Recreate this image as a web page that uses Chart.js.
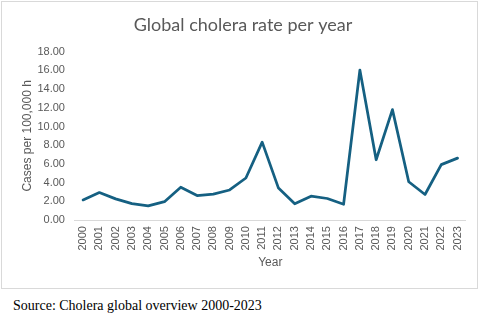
<!DOCTYPE html>
<html>
<head>
<meta charset="utf-8">
<script src="https://cdn.jsdelivr.net/npm/chart.js@4"></script>
<style>
  body { margin: 0; background: #fff; width: 482px; height: 324px; overflow: hidden; }
  #box { position: absolute; left: 1px; top: 1px; width: 475px; height: 286px; border: 1px solid #d9d9d9; }
  #src { position: absolute; left: 13px; top: 298px; font-family: "Liberation Serif", "Times New Roman", serif; font-size: 14px; color: #000; }
</style>
</head>
<body>
<div id="box"><canvas id="choleraChart"></canvas></div>
<div id="src">Source: Cholera global overview 2000-2023</div>
<script>
const years = ['2000', '2001', '2002', '2003', '2004', '2005', '2006', '2007', '2008', '2009', '2010', '2011',
  '2012', '2013', '2014', '2015', '2016', '2017', '2018', '2019', '2020', '2021', '2022', '2023'];
const rates = [2.16, 2.95, 2.27, 1.76, 1.52, 1.97, 3.51, 2.62, 2.78, 3.22, 4.5, 8.33,
  3.42, 1.74, 2.56, 2.31, 1.7, 16.03, 6.45, 11.8, 4.1, 2.74, 5.93, 6.62];

const grey = '#595959';
const titleFont = 'Lato, "Open Sans", sans-serif';
const axisFont = '"Liberation Sans", Arial, sans-serif';

function drawLineChart(id) {
  const ctx = document.getElementById(id);
  new Chart(ctx, {
    type: 'line',
    data: {
      labels: years,
      datasets: [
        {
          data: rates,
          borderColor: '#156082',
          borderWidth: 2.75,
          pointRadius: 0,
          tension: 0,
          borderJoinStyle: 'round',
          borderCapStyle: 'round',
        },
      ],
    },
    options: {
      responsive: true,
      maintainAspectRatio: false,
      animation: false,
      layout: { padding: { left: 18, right: 11, top: 8, bottom: 14 } },
      plugins: {
        legend: { display: false },
        tooltip: { enabled: false },
        title: {
          display: true,
          text: 'Global cholera rate per year',
          color: grey,
          font: { family: titleFont, size: 18, weight: 'normal' },
          padding: { top: 4, bottom: 16 },
        },
      },
      scales: {
        x: {
          offset: true,
          grid: { display: false, drawTicks: false },
          border: { color: '#d9d9d9', width: 1 },
          ticks: {
            color: grey,
            font: { family: axisFont, size: 11 },
            minRotation: 90,
            maxRotation: 90,
            autoSkip: false,
            padding: 6,
          },
          title: {
            display: true,
            text: 'Year',
            color: grey,
            font: { family: axisFont, size: 12 },
            padding: { top: -1 },
          },
        },
        y: {
          min: 0,
          max: 18,
          grid: { display: false, drawTicks: false },
          border: { display: false },
          ticks: {
            stepSize: 2,
            color: grey,
            font: { family: axisFont, size: 11 },
            padding: 10,
            callback: (v) => v.toFixed(2),
          },
          title: {
            display: true,
            text: 'Cases per 100,000 h',
            color: grey,
            font: { family: axisFont, size: 12 },
            padding: { top: 0, bottom: -7 },
          },
        },
      },
    },
  });
}

drawLineChart('choleraChart');
</script>
</body>
</html>
